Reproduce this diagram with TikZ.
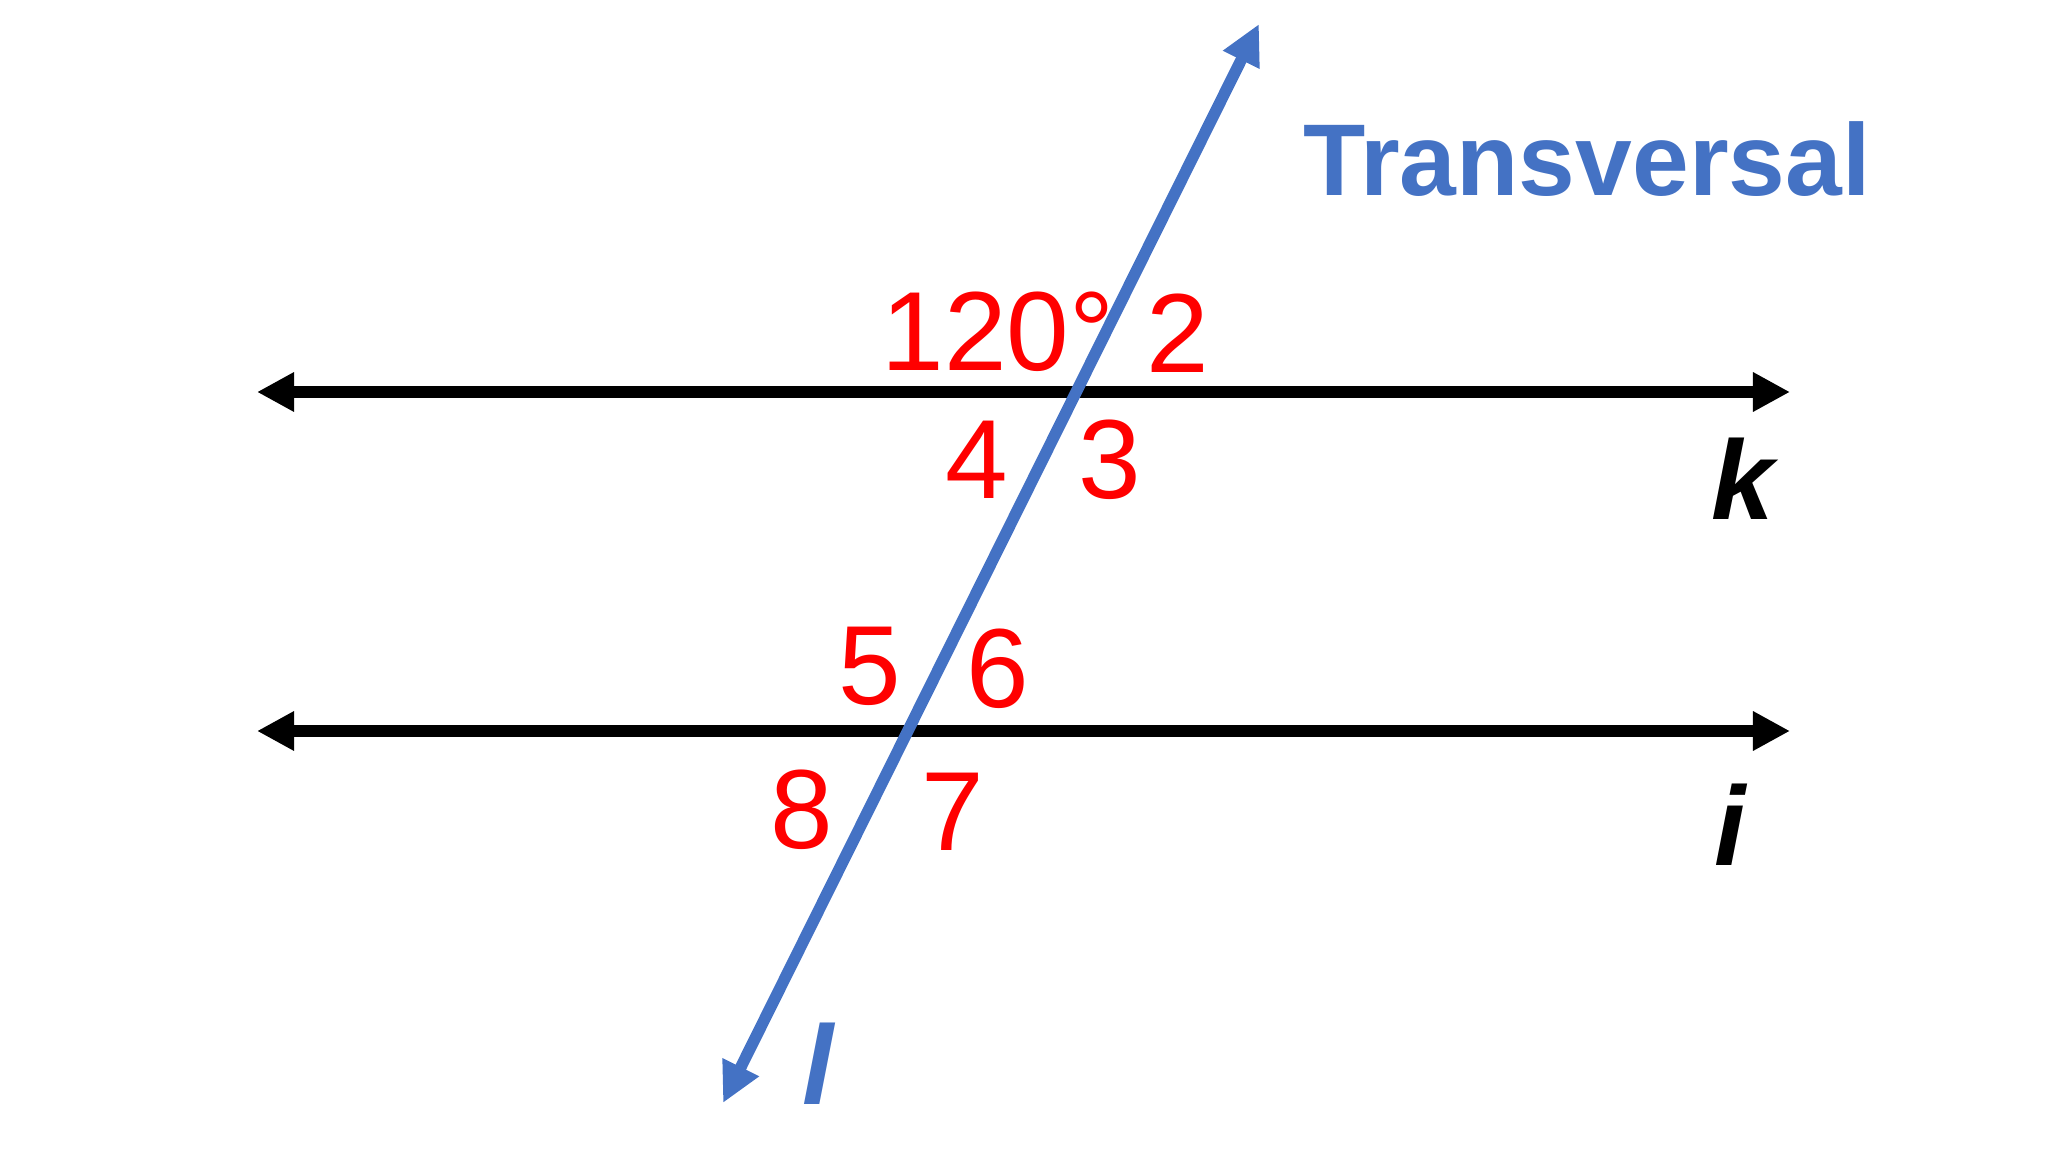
\documentclass[tikz,border=0pt]{standalone}
\usepackage{fontspec}
\setmainfont{Liberation Sans}
\usepackage{tikz}
\usetikzlibrary{arrows.meta}
\definecolor{tblue}{HTML}{4472C4}

\begin{document}
\begin{tikzpicture}[x=0.01cm,y=-0.01cm,
                    parline/.style={line width=3.2pt,{Triangle[length=0.37cm,width=0.37cm]}-{Triangle[length=0.37cm,width=0.37cm]}},
                    trans/.style={line width=3.3pt,color=tblue,{Triangle[length=0.4cm,width=0.38cm]}-{Triangle[length=0.4cm,width=0.38cm]}},
                    anglabel/.style={text=red,font=\fontsize{32}{32}\selectfont,inner sep=0pt},
                    linelabel/.style={font=\fontsize{32}{32}\selectfont\bfseries\itshape,inner sep=0pt}]
  \useasboundingbox (0,0) rectangle (2048,1152);

  \coordinate (k1) at (257,392);
  \coordinate (k2) at (1790,392);
  \coordinate (i1) at (257,731);
  \coordinate (i2) at (1790,731);
  \coordinate (t1) at (1259,24);
  \coordinate (t2) at (723,1103);

  \draw [parline] (k1) -- (k2);
  \draw [parline] (i1) -- (i2);
  \draw [trans] (t2) -- (t1);

  \node[anglabel] (a1) at (998,332) {120°};
  \node[anglabel] (a2) at (1178,333) {2};
  \node[anglabel] (a4) at (977,460) {4};
  \node[anglabel] (a3) at (1110,460) {3};
  \node[anglabel] (a5) at (870,666) {5};
  \node[anglabel] (a6) at (998,669) {6};
  \node[anglabel] (a8) at (802,810) {8};
  \node[anglabel] (a7) at (953,812) {7};

  \node[linelabel] (k) at (1743,479) {k};
  \node[linelabel] (i) at (1730,825) {i};
  \node[linelabel,text=tblue] (l) at (818,1064) {l};

  \node[text=tblue,font=\fontsize{29}{29}\selectfont\bfseries,inner sep=0pt] (tr) at (1587,159) {Transversal};
\end{tikzpicture}
\end{document}
